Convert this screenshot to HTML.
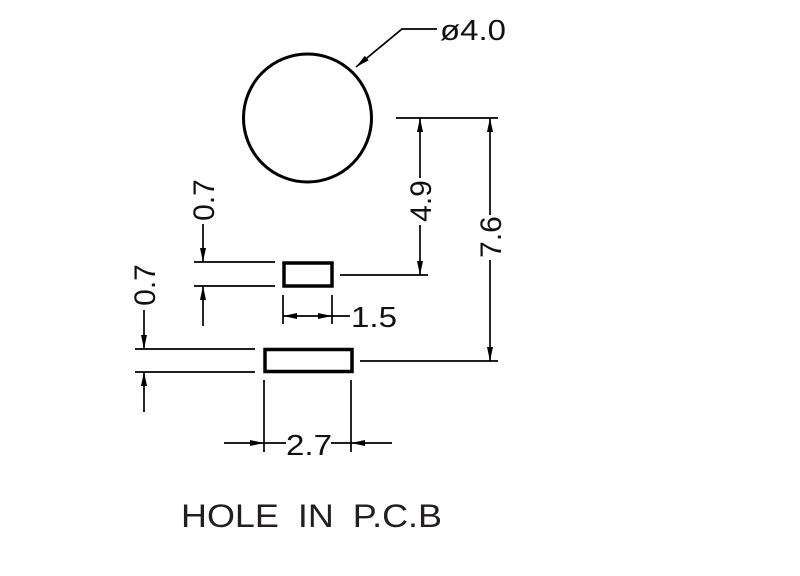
<!DOCTYPE html>
<html><head><meta charset="utf-8"><style>html,body{margin:0;padding:0;background:#fff}svg{display:block}</style></head>
<body>
<svg width="800" height="576" viewBox="0 0 800 576" xmlns="http://www.w3.org/2000/svg">
<defs>
<marker id="a" viewBox="0 0 14 10" refX="14" refY="5" markerWidth="14" markerHeight="10" markerUnits="userSpaceOnUse" orient="auto"><path d="M0,2 L14,5 L0,8 z" fill="#000"/></marker>
</defs>
<g fill="none" stroke="#000">
<circle cx="307.5" cy="118" r="64" stroke-width="3"/>
<rect x="284" y="263" width="48" height="23" stroke-width="3.5"/>
<rect x="265" y="349.5" width="87" height="22" stroke-width="3.5"/>
<g stroke-width="1.7">
<polyline points="437,29 402,29 356,67" marker-end="url(#a)"/>
<line x1="396" y1="118" x2="498" y2="118"/>
<line x1="340" y1="275" x2="428" y2="275"/>
<line x1="360" y1="361" x2="498" y2="361"/>
<line x1="420" y1="225" x2="420" y2="275" marker-end="url(#a)"/>
<line x1="420" y1="178" x2="420" y2="118" marker-end="url(#a)"/>
<line x1="490" y1="260" x2="490" y2="361" marker-end="url(#a)"/>
<line x1="490" y1="215" x2="490" y2="118" marker-end="url(#a)"/>
<line x1="194" y1="262" x2="275" y2="262"/>
<line x1="194" y1="286" x2="275" y2="286"/>
<line x1="203" y1="224" x2="203" y2="262" marker-end="url(#a)"/>
<line x1="203" y1="326" x2="203" y2="286" marker-end="url(#a)"/>
<line x1="283" y1="295" x2="283" y2="324"/>
<line x1="332" y1="295" x2="332" y2="324"/>
<line x1="307" y1="316" x2="283" y2="316" marker-end="url(#a)"/>
<line x1="307" y1="316" x2="332" y2="316" marker-end="url(#a)"/>
<line x1="332" y1="316" x2="350" y2="316"/>
<line x1="135" y1="349" x2="255" y2="349"/>
<line x1="135" y1="372" x2="255" y2="372"/>
<line x1="144" y1="310" x2="144" y2="349" marker-end="url(#a)"/>
<line x1="144" y1="412" x2="144" y2="372" marker-end="url(#a)"/>
<line x1="264" y1="380" x2="264" y2="452"/>
<line x1="351" y1="380" x2="351" y2="452"/>
<line x1="224" y1="443" x2="264" y2="443" marker-end="url(#a)"/>
<line x1="392" y1="443" x2="351" y2="443" marker-end="url(#a)"/>
<line x1="264" y1="443" x2="286" y2="443"/>
<line x1="331" y1="443" x2="351" y2="443"/>
</g>
</g>
<g font-family="Liberation Sans, sans-serif" font-size="29" fill="#111">
<text x="440" y="40" textLength="66" lengthAdjust="spacingAndGlyphs">ø4.0</text>
<text x="351" y="327" textLength="46" lengthAdjust="spacingAndGlyphs">1.5</text>
<text x="286" y="455" textLength="46" lengthAdjust="spacingAndGlyphs">2.7</text>
<text transform="translate(214,200) rotate(-90)" text-anchor="middle" font-size="30">0.7</text>
<text transform="translate(155,285) rotate(-90)" text-anchor="middle" font-size="30">0.7</text>
<text transform="translate(431,201) rotate(-90)" text-anchor="middle" font-size="30">4.9</text>
<text transform="translate(501,237) rotate(-90)" text-anchor="middle" font-size="30">7.6</text>
<text x="181" y="527" font-size="32" word-spacing="8" textLength="261" lengthAdjust="spacingAndGlyphs" fill="#231f20">HOLE IN P.C.B</text>
</g>
</svg>
</body></html>
